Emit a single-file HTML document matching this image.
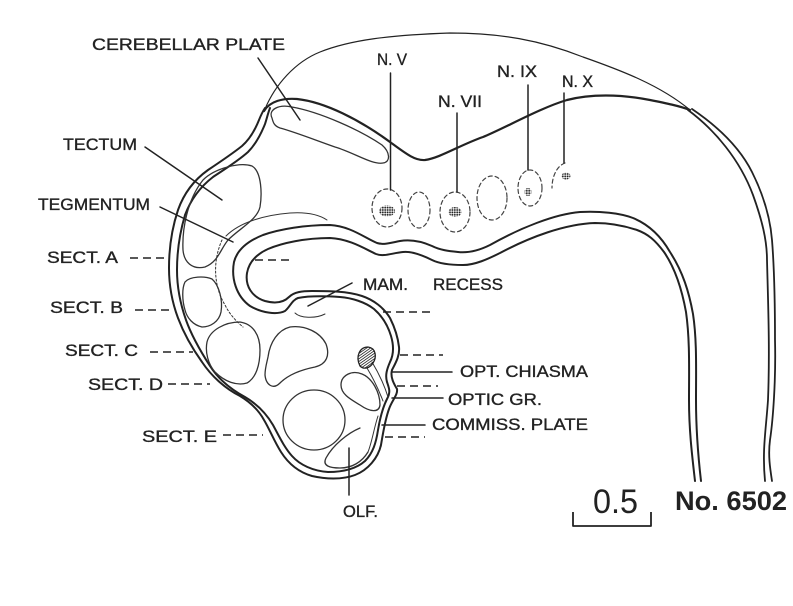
<!DOCTYPE html>
<html><head><meta charset="utf-8"><style>
html,body{margin:0;padding:0;background:#fff;}
svg{display:block}
text{font-family:"Liberation Sans",Arial,sans-serif;fill:#222;}
</style></head><body>
<svg width="793" height="606" viewBox="0 0 793 606" xmlns="http://www.w3.org/2000/svg">
<defs>
<pattern id="dots" width="2.4" height="2.4" patternUnits="userSpaceOnUse"><circle cx="1.2" cy="1.2" r="0.95" fill="#222"/></pattern>
<pattern id="hatch" width="2.2" height="2.2" patternUnits="userSpaceOnUse" patternTransform="rotate(55)"><line x1="0" y1="0" x2="0" y2="2.2" stroke="#111" stroke-width="1.5"/></pattern>
</defs>
<rect width="793" height="606" fill="#fff"/>

<g fill="none" stroke="#222" stroke-linecap="round" stroke-linejoin="round">
<!-- head thin outline -->
<path stroke-width="1.2" d="M265,109 C 275,85 295,62 320,52 C 350,40 390,35 450,33 C 500,33 540,40 583,57 C 620,70 660,85 690,110"/>
<!-- top thick line -->
<path stroke-width="2.2" d="M264,111 C 270,101 283,98 297,99 C 325,102 360,120 390,142 C 405,153 415,161 425,160 C 440,158 460,145 483,137 C 505,128 540,108 567,100 C 590,94 620,94 650,100 C 665,103 680,106 690,110"/>
<!-- right tube -->
<path stroke-width="1.8" d="M688,110 C 715,130 740,160 753,195 C 762,220 767,240 767,260 C 768,300 770,350 768,400 C 766,430 762,450 765,481"/>
<path stroke-width="1.8" d="M692,109 C 720,128 740,148 752,172 C 762,192 770,215 772,240 C 774,265 775,300 775,340 C 776,380 773,420 770,440 C 768,455 770,468 772,481"/>

<!-- outer surface line -->
<path stroke-width="2" d="M695,481 C 692,455 689,430 689,400 C 689,370 690,340 686,312 C 682,290 675,268 664,252 C 655,240 648,234 637,230 C 622,225 608,223 595,223 C 565,224 530,237 500,253 C 488,259 475,265 463,265 C 450,265 440,264 432,260 C 422,255 412,251 403,252 C 392,253 384,257 376,254 C 365,249 350,239 330,238 C 305,238 282,243 268,249 C 257,254 249,262 247,273 C 245,286 252,297 265,301 C 276,304 284,302 289,297 C 294,292 302,291 312,291 C 328,291 347,291 362,296 C 374,300 384,308 390,318 C 395,328 398,338 399,347 C 400,356 395,364 392,370 C 390,377 394,384 397,389 C 398,395 392,400 389,409 C 385,420 383,433 381,445 C 378,458 368,470 355,475 C 342,480 325,479 312,476 C 298,472 288,463 281,452 C 274,441 270,430 264,420 C 258,409 250,402 240,396 C 226,389 212,377 202,362 C 192,348 184,334 178,318 C 172,302 169,285 169,268 C 169,248 172,228 178,210 C 184,193 194,180 208,170 C 220,162 232,154 242,146 C 250,139 255,130 259,120 C 261,115 263,111 265,108"/>
<!-- inner line -->
<path stroke-width="2" d="M701,481 C 698,455 696,430 696,400 C 696,370 697,340 693,314 C 689,292 683,272 670,252 C 662,238 650,225 633,218 C 620,213 600,211 580,212 C 555,214 520,228 490,245 C 478,251 467,253 458,252 C 448,251 440,250 432,246 C 423,242 412,239 400,241 C 390,243 384,245 377,243 C 365,238 350,226 330,225 C 305,225 280,229 263,235 C 248,241 237,250 234,262 C 231,278 236,296 250,306 C 262,313 277,315 285,311 C 290,307 292,300 298,298 C 308,296 325,296 340,297 C 352,298 365,302 374,309 C 382,316 388,326 391,336 C 394,346 394,354 390,362 C 387,369 385,375 387,382 C 389,388 391,392 387,399 C 383,407 380,418 378,430 C 376,443 373,453 365,461 C 356,469 342,472 328,472 C 313,471 300,465 292,456 C 284,447 279,436 273,425 C 266,413 257,404 245,397 C 232,390 219,380 210,366 C 201,352 192,337 186,320 C 180,303 177,287 177,270 C 177,250 180,232 185,215 C 191,199 200,187 213,177 C 225,169 238,161 248,152 C 256,144 261,134 265,124 C 267,118 268,113 270,108"/>

<!-- inner structures -->
<g stroke="#333" stroke-width="1.3">
<path d="M272,118 C 268,110 278,104 292,107 C 320,112 360,130 382,145 C 390,152 391,162 383,163 C 372,165 355,153 335,147 C 315,140 295,132 280,128 C 274,126 273,122 272,118 Z"/>
<path d="M203,180 C 215,168 240,162 252,166 C 262,172 262,195 260,207 C 257,220 240,228 228,240 C 220,250 218,262 205,267 C 192,270 184,262 183,250 C 182,230 187,200 203,180 Z"/>
<path stroke-width="1" d="M226,236 C 240,222 265,215 290,213 C 305,212 318,214 327,220"/>
<path stroke-width="1" stroke-dasharray="2,2" d="M222,240 C 213,260 213,285 225,305 C 230,315 237,322 243,327"/>
<path d="M185,282 C 190,276 205,276 212,279 C 219,285 223,300 221,312 C 219,322 210,327 202,327 C 193,325 187,318 185,310 C 182,300 182,288 185,282 Z"/>
<path d="M207,342 C 210,330 225,322 240,322 C 253,324 260,335 260,350 C 260,365 256,378 247,383 C 237,386 225,382 215,372 C 208,364 205,352 207,342 Z"/>
<path d="M268,357 C 270,342 278,330 290,327 C 305,325 320,332 326,344 C 330,355 327,364 315,367 C 300,370 288,375 280,383 C 273,390 266,385 265,375 C 265,368 267,362 268,357 Z"/>
<ellipse cx="314" cy="420" rx="31" ry="30"/>
<path d="M341,385 C 341,375 352,370 362,374 C 372,378 380,392 380,405 C 379,413 370,412 360,405 C 350,399 341,394 341,385 Z"/>
<path d="M360,428 C 348,433 333,445 326,458 C 322,466 330,468 340,468 C 352,468 362,462 368,452"/>
<path stroke-width="1" d="M378,416 C 374,428 372,442 368,452"/>
<path stroke-width="1" d="M295,313 C 300,318 315,319 325,314"/>
<path stroke-width="1" d="M372,362 C 378,372 384,384 388,397"/>
<path stroke-width="1" d="M367,368 C 373,378 378,388 383,401"/>
</g>
<!-- hatched chiasma blob -->
<path stroke-width="1.3" fill="url(#hatch)" d="M360,366 C 355,356 360,347 368,347 C 376,348 377,357 373,363 C 370,368 364,370 360,366 Z"/>

<!-- nerve ganglia dashed -->
<g stroke="#444" stroke-width="1.2" stroke-dasharray="4,3">
<ellipse cx="387" cy="208" rx="15" ry="19"/>
<ellipse cx="419" cy="210" rx="11" ry="18"/>
<ellipse cx="455" cy="212" rx="15" ry="20"/>
<ellipse cx="492" cy="198" rx="15" ry="22"/>
<ellipse cx="530" cy="188" rx="12" ry="18"/>
<path d="M565,163 C 557,166 552,176 552,188"/>
</g>
<g stroke="none">
<ellipse cx="387" cy="211" rx="8" ry="5.5" fill="url(#dots)"/>
<ellipse cx="455" cy="212" rx="6.5" ry="5" fill="url(#dots)"/>
<ellipse cx="528" cy="192" rx="3.5" ry="4" fill="url(#dots)"/>
<ellipse cx="566" cy="176" rx="4.5" ry="3.5" fill="url(#dots)"/>
</g>

<!-- pointer lines -->
<g stroke-width="1.5">
<path d="M258,58 L300,120"/>
<path d="M145,147 L222,200"/>
<path d="M160,207 L233,242"/>
<path d="M352,283 L308,306"/>
<path d="M390.5,73 L390.5,190"/>
<path d="M457,113 L457,192"/>
<path d="M528,85 L528,170"/>
<path d="M564,93 L564,163"/>
<path d="M392,372 L452,372"/>
<path d="M392,398 L443,398"/>
<path d="M382,425 L425,425"/>
<path d="M349,448 L349,495"/>
</g>
<!-- section dashes -->
<g stroke-width="1.6" stroke-dasharray="8,5" stroke-linecap="butt">
<path d="M130,258 L167,258"/>
<path d="M135,310 L173,310"/>
<path d="M150,352 L193,352"/>
<path d="M168,384 L210,384"/>
<path d="M223,435 L263,435"/>
<path d="M255,260 L293,260"/>
<path d="M383,312 L433,312"/>
<path d="M400,355 L443,355"/>
<path d="M397,386 L438,386"/>
<path d="M385,437 L425,437"/>
</g>
<!-- scale bar -->
<path stroke-width="1.8" stroke-linecap="butt" d="M573,512 L573,526 L651,526 L651,512"/>
</g>

<!-- labels -->
<g font-size="17" stroke="#222" stroke-width="0.35">
<text x="92" y="50" textLength="193" lengthAdjust="spacingAndGlyphs">CEREBELLAR PLATE</text>
<text x="63" y="150" textLength="74" lengthAdjust="spacingAndGlyphs">TECTUM</text>
<text x="38" y="210" textLength="112" lengthAdjust="spacingAndGlyphs">TEGMENTUM</text>
<text x="47" y="263" textLength="71" lengthAdjust="spacingAndGlyphs">SECT. A</text>
<text x="50" y="313" textLength="73" lengthAdjust="spacingAndGlyphs">SECT. B</text>
<text x="65" y="356" textLength="73" lengthAdjust="spacingAndGlyphs">SECT. C</text>
<text x="88" y="390" textLength="75" lengthAdjust="spacingAndGlyphs">SECT. D</text>
<text x="142" y="442" textLength="75" lengthAdjust="spacingAndGlyphs">SECT. E</text>
<text x="363" y="290" textLength="45" lengthAdjust="spacingAndGlyphs">MAM.</text>
<text x="433" y="290" textLength="70" lengthAdjust="spacingAndGlyphs">RECESS</text>
<text x="460" y="377" textLength="128" lengthAdjust="spacingAndGlyphs">OPT. CHIASMA</text>
<text x="448" y="405" textLength="94" lengthAdjust="spacingAndGlyphs">OPTIC GR.</text>
<text x="432" y="430" textLength="156" lengthAdjust="spacingAndGlyphs">COMMISS. PLATE</text>
<text x="343" y="517" textLength="35" lengthAdjust="spacingAndGlyphs">OLF.</text>
<text x="377" y="65" textLength="30" lengthAdjust="spacingAndGlyphs">N. V</text>
<text x="438" y="107" textLength="44" lengthAdjust="spacingAndGlyphs">N. VII</text>
<text x="497" y="77" textLength="40" lengthAdjust="spacingAndGlyphs">N. IX</text>
<text x="562" y="87" textLength="31" lengthAdjust="spacingAndGlyphs">N. X</text>
</g>
<text x="593" y="513" font-size="34" textLength="45" lengthAdjust="spacingAndGlyphs">0.5</text>
<text x="675" y="510" font-size="27" font-weight="bold" textLength="112" lengthAdjust="spacingAndGlyphs">No. 6502</text>
</svg>
</body></html>
